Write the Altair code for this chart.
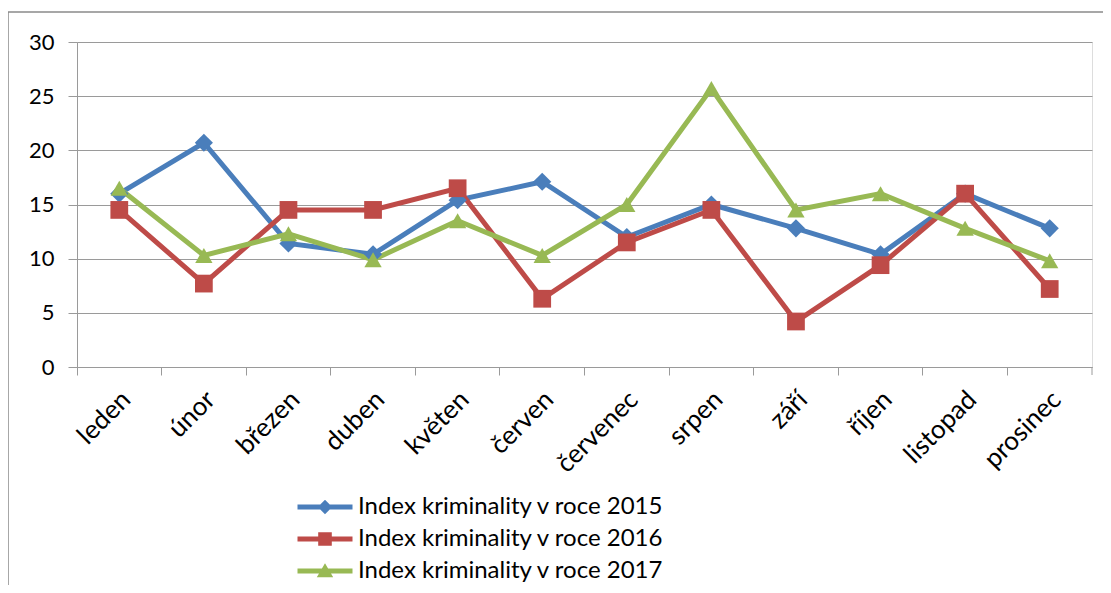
import altair as alt
import pandas as pd

months = ["leden", "únor", "březen", "duben", "květen", "červen", "červenec",
          "srpen", "září", "říjen", "listopad", "prosinec"]
series_names = ["Index kriminality v roce 2015", "Index kriminality v roce 2016",
                "Index kriminality v roce 2017"]
v2015 = [16.0, 20.7, 11.4, 10.4, 15.4, 17.1, 12.0, 15.0, 12.8, 10.4, 16.0, 12.8]
v2016 = [14.5, 7.7, 14.5, 14.5, 16.5, 6.3, 11.5, 14.5, 4.2, 9.4, 16.0, 7.2]
v2017 = [16.5, 10.3, 12.3, 9.9, 13.5, 10.3, 15.0, 25.7, 14.5, 16.0, 12.8, 9.8]
colors = ["#4A7EBB", "#BE4B48", "#98B954"]
y_ticks = [0, 5, 10, 15, 20, 25, 30]

rows = []
for name, vals in zip(series_names, [v2015, v2016, v2017]):
    for m, v in zip(months, vals):
        rows.append({"month": m, "value": v, "series": name})
df = pd.DataFrame(rows)

FONT = "Lato"
GRID = "#9a9a9a"
W, H = 1015, 325

color_scale = alt.Scale(domain=series_names, range=colors)
x_scale = alt.Scale(type="band", paddingInner=0, paddingOuter=0)
y_enc = alt.Y("value:Q",
              scale=alt.Scale(domain=[0, 30], nice=False),
              axis=alt.Axis(values=y_ticks, title=None, grid=True, gridColor=GRID,
                            gridWidth=1, domainColor=GRID, tickColor=GRID,
                            tickSize=9, labelFontSize=22, labelFont=FONT,
                            labelColor="#000000", labelPadding=14))

base = alt.Chart(df)

lines = base.mark_line(strokeWidth=5).encode(
    x=alt.X("month:N", sort=months, scale=x_scale, bandPosition=0.5,
            axis=alt.Axis(orient="bottom", bandPosition=0, labels=False, ticks=True,
                          tickSize=8, tickColor=GRID, domainColor=GRID, grid=False,
                          title=None)),
    y=y_enc,
    color=alt.Color("series:N", scale=color_scale, legend=None),
    detail="series:N",
)

points = base.mark_point(filled=True, opacity=1).encode(
    x=alt.X("month:N", sort=months, scale=x_scale, bandPosition=0.5,
            axis=alt.Axis(orient="bottom", labels=True, ticks=False, domain=False,
                          grid=False, title=None, labelAngle=-45, labelFontSize=26,
                          labelFont=FONT, labelColor="#000000", labelPadding=19,
                          labelOffset=-2)),
    y=y_enc,
    color=alt.Color("series:N", scale=color_scale, legend=None),
    shape=alt.Shape("series:N",
                    scale=alt.Scale(domain=series_names,
                                    range=["diamond", "square", "triangle-up"]),
                    legend=None),
    size=alt.Size("series:N", scale=alt.Scale(domain=series_names,
                                              range=[330, 300, 380]), legend=None),
)

line_r = "M-2.75,-0.25 L2.75,-0.25 L2.75,0.25 L-2.75,0.25 Z "
legend_paths = [
    line_r + "M0,-0.72 L0.72,0 L0,0.72 L-0.72,0 Z",
    line_r + "M-0.68,-0.68 L0.68,-0.68 L0.68,0.68 L-0.68,0.68 Z",
    line_r + "M0,-0.78 L0.82,0.62 L-0.82,0.62 Z",
]

leg = dict(title=None, orient="none", legendX=236, legendY=453,
           direction="vertical", symbolSize=400, labelFontSize=24, labelFont=FONT,
           labelColor="#000000", labelLimit=600, symbolOpacity=1, rowPadding=8,
           labelOffset=21)

legend_layer = base.transform_filter("false").mark_point(filled=True, opacity=1).encode(
    color=alt.Color("series:N", scale=color_scale, legend=alt.Legend(**leg)),
    shape=alt.Shape("series:N", scale=alt.Scale(domain=series_names, range=legend_paths),
                    legend=alt.Legend(**leg)),
)

border = alt.Chart(alt.Data(values=[{"k": 1}])).mark_rect(
    fill=None, stroke="#8a8a8a", strokeWidth=1.5
).encode(x=alt.value(-69), x2=alt.value(1060), y=alt.value(-30), y2=alt.value(600))

end_tick = alt.Chart(alt.Data(values=[{"k": 1}])).mark_rule(
    color=GRID, strokeWidth=1
).encode(x=alt.value(W), y=alt.value(H), y2=alt.value(H + 8))

chart = alt.layer(border, lines, points, legend_layer, end_tick).resolve_axis(
    x="independent"
).resolve_scale(shape="independent", size="independent").resolve_legend(
    color="independent", shape="independent"
).properties(
    width=W, height=H,
    autosize=alt.AutoSizeParams(type="none"),
    padding={"left": 69, "top": 34, "right": 11, "bottom": 218},
).configure_view(stroke=None).configure(background="#ffffff")

chart.save("out.html", embed_options={"renderer": "svg", "actions": False})
